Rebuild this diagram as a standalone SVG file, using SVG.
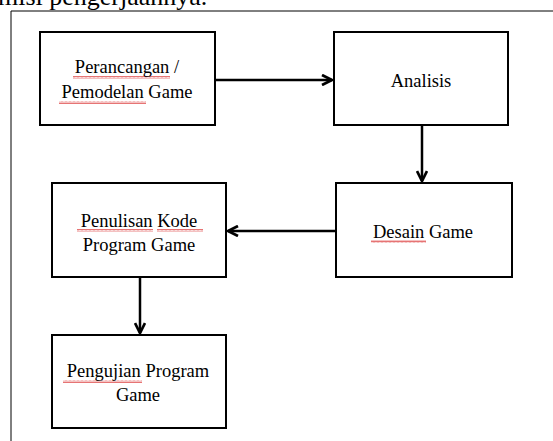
<svg xmlns="http://www.w3.org/2000/svg" width="553" height="441" viewBox="0 0 553 441">
  <style>
    .box { fill: #ffffff; stroke: #000000; stroke-width: 2; }
    .lbl { font-family: "Liberation Serif", "Times New Roman", serif; font-size: 18.5px; fill: #000000; text-anchor: middle; }
    .conn { stroke: #000000; stroke-width: 2.5; fill: none; }
    .sq { fill: url(#squiggle); }
  </style>
  <defs>
    <marker id="arrow" viewBox="0 0 10 10" refX="9" refY="5" markerWidth="5" markerHeight="5" orient="auto" markerUnits="strokeWidth">
      <path d="M1,1 L9,5 L1,9" fill="none" stroke="#000000" stroke-width="2.2"/>
    </marker>
    <pattern id="squiggle" x="0" y="0" width="4" height="3" patternUnits="userSpaceOnUse">
      <polyline points="0,2.5 1,0.5 2,2.5 3,0.5 4,2.5" fill="none" stroke="#e05050" stroke-width="0.8"/>
    </pattern>
  </defs>

  <text x="-2" y="5" font-family="Liberation Serif, serif" font-size="26" fill="#000">misi pengerjaannya.</text>
  <path d="M553,11 H11 V441" fill="none" stroke="#000" stroke-width="1"/>

  <g id="connectors">
    <line class="conn" x1="215" y1="80" x2="332" y2="80" marker-end="url(#arrow)"/>
    <line class="conn" x1="422" y1="125" x2="422" y2="181" marker-end="url(#arrow)"/>
    <line class="conn" x1="336" y1="231" x2="228" y2="231" marker-end="url(#arrow)"/>
    <line class="conn" x1="140" y1="277" x2="140" y2="333" marker-end="url(#arrow)"/>
  </g>

  <g id="node-perancangan">
    <rect class="box" x="40" y="32" width="175" height="93"/>
    <rect class="sq" x="73" y="76" width="97" height="3"/>
    <rect class="sq" x="59" y="101" width="87" height="3"/>
    <text class="lbl" x="127" y="73">Perancangan /</text>
    <text class="lbl" x="127" y="98">Pemodelan Game</text>
  </g>

  <g id="node-analisis">
    <rect class="box" x="334" y="32" width="174" height="93"/>
    <text class="lbl" x="421" y="87">Analisis</text>
  </g>

  <g id="node-desain">
    <rect class="box" x="336" y="183" width="176" height="94"/>
    <rect class="sq" x="371" y="240" width="55" height="3"/>
    <text class="lbl" x="423" y="238">Desain Game</text>
  </g>

  <g id="node-penulisan">
    <rect class="box" x="52" y="183" width="174" height="94"/>
    <rect class="sq" x="77" y="229" width="76" height="3"/>
    <rect class="sq" x="157" y="229" width="46" height="3"/>
    <text class="lbl" x="139" y="227">Penulisan Kode</text>
    <text class="lbl" x="139" y="251">Program Game</text>
  </g>

  <g id="node-pengujian">
    <rect class="box" x="52" y="335" width="174" height="93"/>
    <rect class="sq" x="63" y="380" width="79" height="3"/>
    <text class="lbl" x="138" y="377">Pengujian Program</text>
    <text class="lbl" x="138" y="401">Game</text>
  </g>
</svg>
